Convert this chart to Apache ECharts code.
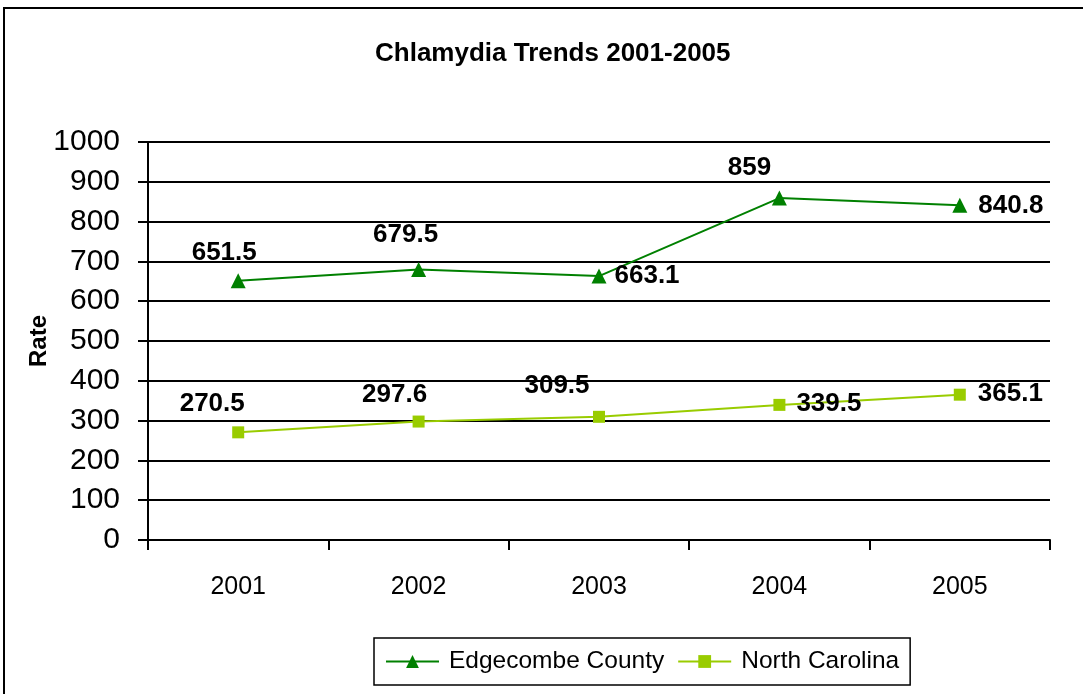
<!DOCTYPE html>
<html><head><meta charset="utf-8">
<script src="https://cdn.jsdelivr.net/npm/echarts@6/dist/echarts.min.js"></script>
<style>html,body{margin:0;padding:0;background:#fff;}#c{width:1083px;height:694px;}</style>
</head><body><div id="c"></div>
<script>
const categories = ['2001','2002','2003','2004','2005'];
const edgecombe = [651.5, 679.5, 663.1, 859, 840.8];
const northCarolina = [270.5, 297.6, 309.5, 339.5, 365.1];
const yTicks = {min: 0, max: 1000, interval: 100};

// label placement styles (not data)
const edgeLabelPos = [['top',[-14,-2]],['top',[-13,-9]],['right',[3,0]],['top',[-30,-5]],['right',[6,0]]];
const ncLabelPos = [['top',[-26,-5]],['top',[-24,-3]],['top',[-42,-7]],['right',[6,-1]],['right',[7,-1]]];

const sans = '"Liberation Sans", Arial, sans-serif';

function build(vals, pos) {
  return vals.map((v, i) => ({
    value: v,
    label: { show: true, position: pos[i][0], offset: pos[i][1] }
  }));
}
const labelStyle = { fontFamily: sans, fontWeight: 'bold', fontSize: 26, color: '#000', distance: 5 };

const chart = echarts.init(document.getElementById('c'));
chart.setOption({
  animation: false,
  graphic: [{ type: 'rect', shape: { x: 4, y: 8, width: 1100, height: 720 }, style: { fill: 'none', stroke: '#000', lineWidth: 2 }, silent: true }],
  title: { text: 'Chlamydia Trends 2001-2005', left: 370, top: 36,
    textStyle: { fontFamily: sans, fontWeight: 'bold', fontSize: 26, color: '#000' } },
  grid: { left: 148, right: 33, top: 142, bottom: 154 },
  legend: {
    left: 374, top: 638,
    data: ['Edgecombe County', 'North Carolina'],
    borderColor: '#000', borderWidth: 1.5, padding: [11, 11, 11, 11],
    itemWidth: 53, itemHeight: 16, itemGap: 13,
    textStyle: { fontFamily: sans, fontSize: 24.5, color: '#000', padding: [0, 0, 0, 5] }
  },
  xAxis: {
    type: 'category', data: categories, boundaryGap: true,
    axisLine: { lineStyle: { color: '#000', width: 2 } },
    axisTick: { show: true, length: 10, lineStyle: { color: '#000', width: 2 } },
    axisLabel: { fontFamily: sans, fontSize: 25, color: '#000', margin: 35 }
  },
  yAxis: {
    type: 'value', min: yTicks.min, max: yTicks.max, interval: yTicks.interval,
    name: 'Rate', nameLocation: 'middle', nameGap: 97, nameRotate: 90, nameMoveOverlap: false,
    nameTextStyle: { fontFamily: sans, fontWeight: 'bold', fontSize: 24, color: '#000' },
    axisLine: { show: true, lineStyle: { color: '#000', width: 2 } },
    axisTick: { show: true, length: 10, lineStyle: { color: '#000', width: 2 } },
    splitLine: { lineStyle: { color: '#000', width: 2 } },
    axisLabel: { fontFamily: sans, fontSize: 30, color: '#000', margin: 28, formatter: v => String(v) }
  },
  series: [
    { name: 'Edgecombe County', type: 'line', data: build(edgecombe, edgeLabelPos),
      symbol: 'triangle', symbolSize: 15, color: '#008000',
      lineStyle: { color: '#008000', width: 2 }, itemStyle: { color: '#008000' },
      label: labelStyle },
    { name: 'North Carolina', type: 'line', data: build(northCarolina, ncLabelPos),
      symbol: 'rect', symbolSize: 12, color: '#99CC00',
      lineStyle: { color: '#99CC00', width: 2 }, itemStyle: { color: '#99CC00' },
      label: labelStyle }
  ]
});
</script></body></html>
